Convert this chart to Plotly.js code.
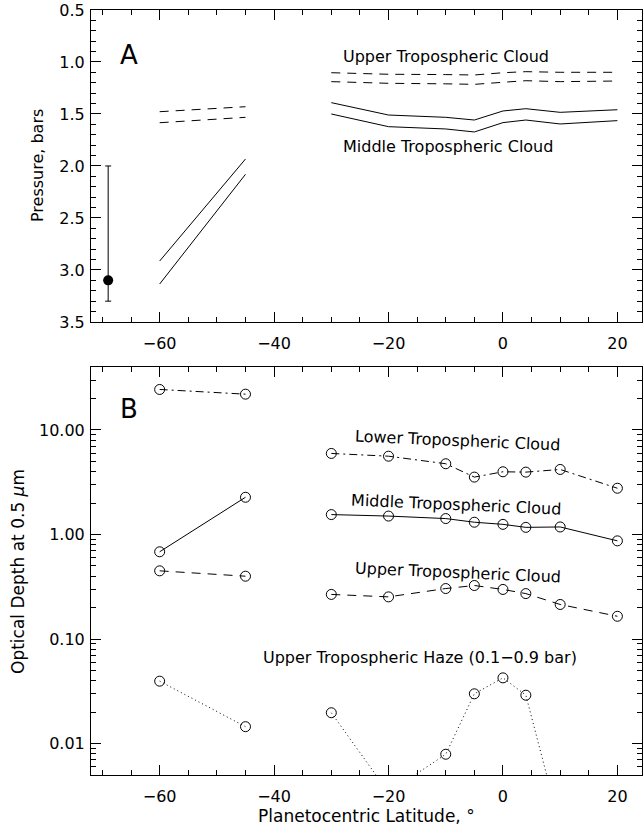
<!DOCTYPE html>
<html>
<head>
<meta charset="utf-8">
<script src="https://cdn.plot.ly/plotly-3.0.1.min.js"></script>
<style>html,body{margin:0;padding:0;background:#fff;}#chart{width:644px;height:826px;}</style>
</head>
<body>
<div id="chart"></div>
<script>
// ---- Data ----
var latLeft = [-60, -45];
var latRight = [-30, -20, -10, -5, 0, 4, 10, 20];

// Panel A: cloud top/bottom pressures (bars)
var upperCloudTopLeft = [1.478, 1.430];
var upperCloudBotLeft = [1.584, 1.532];
var middleCloudTopLeft = [2.914, 1.933];
var middleCloudBotLeft = [3.135, 2.080];
var upperCloudTopRight = [1.103, 1.118, 1.121, 1.125, 1.103, 1.093, 1.099, 1.099];
var upperCloudBotRight = [1.189, 1.205, 1.210, 1.215, 1.195, 1.180, 1.189, 1.183];
var middleCloudTopRight = [1.391, 1.510, 1.532, 1.558, 1.471, 1.449, 1.484, 1.459];
var middleCloudBotRight = [1.500, 1.622, 1.644, 1.673, 1.583, 1.558, 1.596, 1.564];
var refPointLat = [-69];
var refPointP = [3.1];
var refErrPlus = [0.2];
var refErrMinus = [1.1];

// Panel B: optical depth at 0.5 um
var lowerTauLeft = [24.4, 22.0];
var lowerTauRight = [5.96, 5.61, 4.75, 3.54, 3.98, 3.95, 4.19, 2.77];
var middleTauLeft = [0.683, 2.27];
var middleTauRight = [1.55, 1.50, 1.42, 1.31, 1.25, 1.17, 1.18, 0.869];
var upperTauLeft = [0.449, 0.399];
var upperTauRight = [0.267, 0.253, 0.304, 0.325, 0.298, 0.272, 0.214, 0.165];
var hazeTauLeft = [0.0395, 0.0145];
var hazeTauRight = [0.0197, 0.0034, 0.0079, 0.0299, 0.0425, 0.029, 0.0016, null];

var logTickVals = [0.01, 0.1, 1, 10];
var logTickText = ["0.01", "0.10", "1.00", "10.00"];
var pTickVals = [0.5, 1.0, 1.5, 2.0, 2.5, 3.0, 3.5];

// ---- Styles ----
var FONT = "DejaVu Sans, sans-serif";
var DASH = "9px,7px";
var DASHDOT = "8px,4px,2px,4px";
var DOT = "1px,3px";

function lineA(x, y, dash) {
  return {x: x, y: y, xaxis: "x2", yaxis: "y2", mode: "lines", type: "scatter",
          line: {color: "black", width: 1, dash: dash}, showlegend: false};
}
function lineB(x, y, dash) {
  return {x: x, y: y, xaxis: "x", yaxis: "y", mode: "lines+markers", type: "scatter",
          line: {color: "black", width: 1, dash: dash},
          marker: {symbol: "circle-open", size: 10, color: "black"},
          showlegend: false};
}

var traces = [
  lineB(latLeft, lowerTauLeft, DASHDOT),
  lineB(latRight, lowerTauRight, DASHDOT),
  lineB(latLeft, middleTauLeft, "solid"),
  lineB(latRight, middleTauRight, "solid"),
  lineB(latLeft, upperTauLeft, DASH),
  lineB(latRight, upperTauRight, DASH),
  lineB(latLeft, hazeTauLeft, DOT),
  lineB(latRight, hazeTauRight, DOT),
  lineA(latLeft, upperCloudTopLeft, DASH),
  lineA(latLeft, upperCloudBotLeft, DASH),
  lineA(latLeft, middleCloudTopLeft, "solid"),
  lineA(latLeft, middleCloudBotLeft, "solid"),
  lineA(latRight, upperCloudTopRight, DASH),
  lineA(latRight, upperCloudBotRight, DASH),
  lineA(latRight, middleCloudTopRight, "solid"),
  lineA(latRight, middleCloudBotRight, "solid"),
  {x: refPointLat, y: refPointP, xaxis: "x2", yaxis: "y2", mode: "markers", type: "scatter",
   marker: {symbol: "circle", size: 10, color: "black"},
   error_y: {type: "data", symmetric: false, array: refErrPlus, arrayminus: refErrMinus,
             color: "black", thickness: 1, width: 3},
   showlegend: false}
];

var minorLog = [];
for (var d = -3; d <= 1; d++) {
  for (var k = 2; k <= 9; k++) minorLog.push(k * Math.pow(10, d));
}

var xRange = [-72, 24.3];
var axisCommon = {
  showline: true, linecolor: "black", linewidth: 1, mirror: "allticks",
  ticks: "inside", ticklen: 10, tickwidth: 1, tickcolor: "black",
  showgrid: false, zeroline: false, tickfont: {family: FONT, size: 16, color: "black"}
};
function extend(a, b) { var o = {}; for (var k in a) o[k] = a[k]; for (var k2 in b) o[k2] = b[k2]; return o; }

var xMinor = {dtick: 5, tick0: 0, ticks: "inside", ticklen: 5};
var logMinor = {tickmode: "array", tickvals: minorLog, ticks: "inside", ticklen: 5};
var pMinor = {dtick: 0.1, tick0: 0, ticks: "inside", ticklen: 5};

var layout = {
  width: 644, height: 826,
  margin: {l: 91, r: 2, t: 10, b: 51},
  paper_bgcolor: "white", plot_bgcolor: "white",
  showlegend: false,
  xaxis: extend(axisCommon, {
    range: xRange, dtick: 20, tick0: 0, anchor: "y", ticklabelstandoff: 7, minor: xMinor
  }),
  yaxis: extend(axisCommon, {
    type: "log", domain: [0, 0.5333], anchor: "x", ticklabelstandoff: 2,
    range: [Math.log10(0.005), Math.log10(40)],
    tickmode: "array", tickvals: logTickVals, ticktext: logTickText, minor: logMinor
  }),
  xaxis2: extend(axisCommon, {
    range: xRange, dtick: 20, tick0: 0, anchor: "y2", ticklabelstandoff: 7, minor: xMinor
  }),
  yaxis2: extend(axisCommon, {
    domain: [0.5922, 1], anchor: "x2", ticklabelstandoff: 2,
    range: [3.5, 0.5], tickmode: "array", tickvals: pTickVals, tickformat: ".1f", minor: pMinor
  }),
  // tick-only overlay axes (same scales), no labels
  xaxis3: extend(axisCommon, {range: xRange, dtick: 20, tick0: 0, anchor: "y", overlaying: "x", showticklabels: false, minor: xMinor}),
  xaxis4: extend(axisCommon, {range: xRange, dtick: 20, tick0: 0, anchor: "y2", overlaying: "x2", showticklabels: false, minor: xMinor}),
  yaxis3: extend(axisCommon, {type: "log", domain: [0, 0.5333], anchor: "x", overlaying: "y", showticklabels: false,
    range: [Math.log10(0.005), Math.log10(40)], tickmode: "array", tickvals: logTickVals, minor: logMinor}),
  yaxis4: extend(axisCommon, {domain: [0.5922, 1], anchor: "x2", overlaying: "y2", showticklabels: false,
    range: [3.5, 0.5], tickmode: "array", tickvals: pTickVals, minor: pMinor}),
  annotations: [
    {text: "Planetocentric Latitude, °", x: 0.5, y: -0.0536, xref: "paper", yref: "paper", xanchor: "center", yanchor: "middle", showarrow: false, font: {family: FONT, size: 17, color: "black"}},
    {text: "Optical Depth at 0.5 <i>μ</i>m", x: -0.1325, y: 0.2667, xref: "paper", yref: "paper", xanchor: "center", yanchor: "middle", textangle: -90, showarrow: false, font: {family: FONT, size: 17, color: "black"}},
    {text: "Pressure, bars", x: -0.098, y: 0.796, xref: "paper", yref: "paper", xanchor: "center", yanchor: "middle", textangle: -90, showarrow: false, font: {family: FONT, size: 16, color: "black"}},
    {text: "A", x: -65.4, y: 0.93, xref: "x2", yref: "y2", showarrow: false, font: {family: FONT, size: 26, color: "black"}},
    {text: "B", x: -65.4, y: Math.log10(15.7), xref: "x", yref: "y", showarrow: false, font: {family: FONT, size: 26, color: "black"}},
    {text: "Upper Tropospheric Cloud", x: -28.3, y: 0.95, xref: "x2", yref: "y2", xanchor: "left", showarrow: false, font: {family: FONT, size: 16, color: "black"}},
    {text: "Middle Tropospheric Cloud", x: -28.3, y: 1.814, xref: "x2", yref: "y2", xanchor: "left", showarrow: false, font: {family: FONT, size: 16, color: "black"}},
    {text: "Lower Tropospheric Cloud", x: -7.9, y: Math.log10(7.98), xref: "x", yref: "y", textangle: 2.5, showarrow: false, font: {family: FONT, size: 16, color: "black"}},
    {text: "Middle Tropospheric Cloud", x: -8.2, y: Math.log10(1.94), xref: "x", yref: "y", textangle: 2.5, showarrow: false, font: {family: FONT, size: 16, color: "black"}},
    {text: "Upper Tropospheric Cloud", x: -7.9, y: Math.log10(0.43), xref: "x", yref: "y", textangle: 2.5, showarrow: false, font: {family: FONT, size: 16, color: "black"}},
    {text: "Upper Tropospheric Haze (0.1−0.9 bar)", x: 13.3, y: Math.log10(0.0665), xref: "x", yref: "y", xanchor: "right", showarrow: false, font: {family: FONT, size: 16, color: "black"}}
  ]
};

Plotly.newPlot("chart", traces, layout, {displayModeBar: false});
</script>
</body>
</html>
